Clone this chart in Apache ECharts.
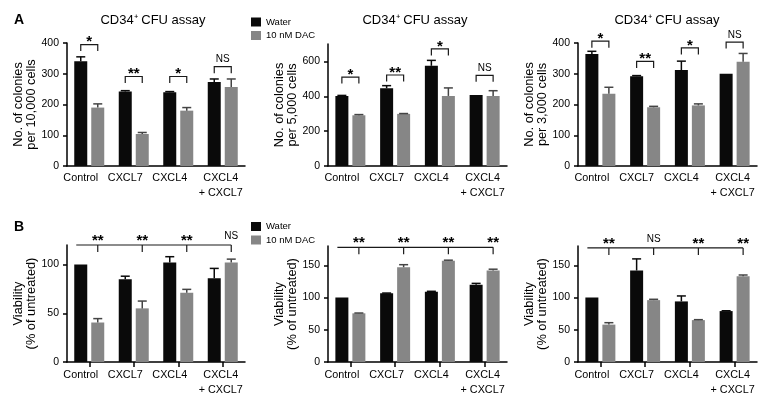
<!DOCTYPE html>
<html><head><meta charset="utf-8">
<script src="https://cdn.jsdelivr.net/npm/echarts@6/dist/echarts.min.js"></script>
<style>html,body{margin:0;padding:0;background:#fff}#c{width:775px;height:410px}</style>
</head><body><div id="c"></div>
<script>
// ---------- data ----------
const categories = ['Control', 'CXCL7', 'CXCL4', 'CXCL4 + CXCL7'];
const seriesNames = ['Water', '10 nM DAC'];
const panelTitle = 'CD34⁺ CFU assay';

// Panel A1: colonies per 10,000 cells
const a1Water = [341, 242, 240, 273];
const a1WaterErr = [14, 3, 2, 10];
const a1Dac = [190, 104, 180, 257];
const a1DacErr = [12, 5, 10, 26];
const a1Sig = ['*', '**', '*', 'NS'];
const a1SigLevel = [395, 291, 291, 323];
const a1Ticks = [0, 100, 200, 300, 400];

// Panel A2: colonies per 5,000 cells
const a2Water = [402, 446, 575, 408];
const a2WaterErr = [3, 15, 31, 0];
const a2Dac = [291, 299, 402, 402];
const a2DacErr = [4, 2, 46, 30];
const a2Sig = ['*', '**', '*', 'NS'];
const a2SigLevel = [510, 522, 672, 520];
const a2Ticks = [0, 200, 400, 600];

// Panel A3: colonies per 3,000 cells
const a3Water = [364, 292, 312, 300];
const a3WaterErr = [9, 2, 29, 0];
const a3Dac = [235, 191, 197, 339];
const a3DacErr = [21, 3, 5, 27];
const a3Sig = ['*', '**', '*', 'NS'];
const a3SigLevel = [406, 340, 384, 403];
const a3Ticks = [0, 100, 200, 300, 400];

// Panel B1: viability (% of untreated)
const b1Water = [100, 85, 102, 86];
const b1WaterErr = [0, 3, 6, 10];
const b1Dac = [40.5, 55, 71, 102];
const b1DacErr = [4, 7.5, 3.5, 3.5];
const b1Sig = ['**', '**', '**', 'NS'];
const b1SigLevel = 120;
const b1Ticks = [0, 50, 100];

// Panel B2
const b2Water = [100, 106.5, 109, 120];
const b2WaterErr = [0, 0.5, 0.7, 2];
const b2Dac = [75.5, 147, 157, 142];
const b2DacErr = [0.5, 4, 1, 2];
const b2Sig = ['**', '**', '**', '**'];
const b2SigLevel = 178;
const b2Ticks = [0, 50, 100, 150];

// Panel B3
const b3Water = [100, 142, 94, 79];
const b3WaterErr = [0, 18, 8.5, 0.5];
const b3Dac = [58, 96, 65, 133];
const b3DacErr = [3, 1.3, 0.7, 2];
const b3Sig = ['**', 'NS', '**', '**'];
const b3SigLevel = 177;
const b3Ticks = [0, 50, 100, 150];

const yNameA1 = 'No. of colonies\nper 10,000 cells';
const yNameA2 = 'No. of colonies\nper 5,000 cells';
const yNameA3 = 'No. of colonies\nper 3,000 cells';
const yNameB = 'Viability\n(% of untreated)';

// ---------- layout / style ----------
const FONT = '"Liberation Sans", Arial, Helvetica, sans-serif';
const BLACK = '#0a0a0a', GREY = '#868686', GREY_ERR = '#444444';
const BAR_W = 13, BAR_GAP = 4, BAR_OFF = (BAR_W + BAR_GAP) / 2, CAP = 4.5;

const panels = [
  {grid:{left:67, top:43, width:178, height:123}, kind:'A', w:a1Water, we:a1WaterErr, d:a1Dac, de:a1DacErr, sig:a1Sig, lvl:a1SigLevel, ticks:a1Ticks, max:400, interval:100, yName:yNameA1, nameGap:29, title:[153,20.5]},
  {grid:{left:328, top:44, width:179, height:122}, kind:'A', w:a2Water, we:a2WaterErr, d:a2Dac, de:a2DacErr, sig:a2Sig, lvl:a2SigLevel, ticks:a2Ticks, max:700, interval:100, yName:yNameA2, nameGap:29, title:[415,20.5]},
  {grid:{left:578, top:43, width:179, height:123}, kind:'A', w:a3Water, we:a3WaterErr, d:a3Dac, de:a3DacErr, sig:a3Sig, lvl:a3SigLevel, ticks:a3Ticks, max:400, interval:100, yName:yNameA3, nameGap:27, title:[667,20.5]},
  {grid:{left:67, top:245, width:178, height:117}, kind:'B', w:b1Water, we:b1WaterErr, d:b1Dac, de:b1DacErr, sig:b1Sig, lvl:b1SigLevel, ticks:b1Ticks, max:120, interval:10, yName:yNameB, nameGap:29},
  {grid:{left:328, top:246, width:179, height:116}, kind:'B', w:b2Water, we:b2WaterErr, d:b2Dac, de:b2DacErr, sig:b2Sig, lvl:b2SigLevel, ticks:b2Ticks, max:180, interval:10, yName:yNameB, nameGap:29},
  {grid:{left:578, top:246, width:179, height:116}, kind:'B', w:b3Water, we:b3WaterErr, d:b3Dac, de:b3DacErr, sig:b3Sig, lvl:b3SigLevel, ticks:b3Ticks, max:180, interval:10, yName:yNameB, nameGap:27}
];

function errSeries(gi, vals, errs, side, color) {
  return {
    type:'custom', xAxisIndex:gi, yAxisIndex:gi, clip:false, silent:true, z:5,
    data: vals.map((v, i) => [i, v, v + errs[i]]),
    encode:{x:0, y:[1, 2]},
    renderItem(params, api) {
      const i = api.value(0), v = api.value(1), t = api.value(2);
      if (!(t > v)) return null;
      const p0 = api.coord([i, v]), p1 = api.coord([i, t]);
      const x = p0[0] + side * BAR_OFF;
      return {type:'group', children:[
        {type:'line', shape:{x1:x, y1:p0[1], x2:x, y2:p1[1]}, style:{stroke:color, lineWidth:1.5}},
        {type:'line', shape:{x1:x - CAP, y1:p1[1], x2:x + CAP, y2:p1[1]}, style:{stroke:color, lineWidth:1.5}}
      ]};
    }
  };
}

function bracketSeries(gi, labels, levels) {
  return {
    type:'custom', xAxisIndex:gi, yAxisIndex:gi, clip:false, silent:true, z:6,
    data: levels.map((l, i) => [i, l]),
    encode:{x:0, y:1},
    renderItem(params, api) {
      const i = api.value(0), p = api.coord([i, api.value(1)]);
      const xl = p[0] - BAR_OFF, xr = p[0] + BAR_OFF, y = p[1];
      const lab = labels[params.dataIndex];
      const ns = lab === 'NS';
      return {type:'group', children:[
        {type:'polyline', shape:{points:[[xl, y + 6.5], [xl, y], [xr, y], [xr, y + 6.5]]}, style:{stroke:'#1a1a1a', lineWidth:1.2, fill:null}},
        {type:'text', x:p[0], y: ns ? y - 7 : y - 2.5, style:{text:lab, align:'center', verticalAlign:'middle', font: ns ? '10px ' + FONT : 'bold 15px ' + FONT, fill:'#000'}}
      ]};
    }
  };
}

function lineSigSeries(gi, labels, level) {
  return {
    type:'custom', xAxisIndex:gi, yAxisIndex:gi, clip:false, silent:true, z:6,
    data: labels.map((l, i) => [i, level]),
    encode:{x:0, y:1},
    renderItem(params, api) {
      const i = api.value(0), p = api.coord([i, api.value(1)]);
      const x = p[0] + BAR_OFF, y = p[1];
      const lab = labels[params.dataIndex];
      const ns = lab === 'NS';
      const ch = [
        {type:'line', shape:{x1:x, y1:y, x2:x, y2:y + 7}, style:{stroke:'#1a1a1a', lineWidth:1.2}},
        {type:'text', x:x, y: ns ? y - 8.5 : y - 4, style:{text:lab, align:'center', verticalAlign:'middle', font: ns ? '10px ' + FONT : 'bold 15px ' + FONT, fill:'#000'}}
      ];
      if (params.dataIndex === 0) {
        const pEnd = api.coord([labels.length - 1, api.value(1)]);
        ch.push({type:'line', shape:{x1:p[0] - BAR_OFF - 4.5, y1:y, x2:pEnd[0] + BAR_OFF, y2:y}, style:{stroke:'#1a1a1a', lineWidth:1.2}});
      }
      return {type:'group', children:ch};
    }
  };
}

const grids = [], xAxes = [], yAxes = [], series = [], graphics = [];
panels.forEach((P, gi) => {
  grids.push(P.grid);
  const isB = P.kind === 'B';
  xAxes.push({
    type:'category', gridIndex:gi, data:categories, boundaryGap:true,
    axisLine:{show:true, lineStyle:{color:'#000', width:1.5}},
    axisTick:{show:isB, alignWithLabel:true, length:5, lineStyle:{color:'#000', width:1.5}},
    axisLabel:{
      interval:0, margin: isB ? 6 : 4.5, color:'#000',
      formatter: v => v === 'CXCL4 + CXCL7' ? '{c|CXCL4}\n{c|+ CXCL7}' : '{a|' + v + '}',
      rich:{
        a:{fontSize:10.8, lineHeight:15, fontFamily:FONT, color:'#000', padding:[0, 17, 0, 0]},
        c:{fontSize:10.8, lineHeight:15, fontFamily:FONT, color:'#000', padding:[0, 4, 0, 0]}
      }
    },
    splitLine:{show:false}
  });
  yAxes.push({
    type:'value', gridIndex:gi, min:0, max:P.max, interval:P.interval,
    axisLine:{show:true, lineStyle:{color:'#000', width:1.5}},
    axisTick:{show:true, length:4, lineStyle:{color:'#000', width:1.5}, customValues:P.ticks},
    axisLabel:{fontSize:10.5, color:'#000', margin:8, fontFamily:FONT, customValues:P.ticks},
    splitLine:{show:false},
    name:P.yName, nameLocation:'middle', nameGap:P.nameGap,
    nameTextStyle:{fontSize:12.8, lineHeight:13, color:'#000', fontFamily:FONT}
  });
  series.push({type:'bar', name:seriesNames[0], xAxisIndex:gi, yAxisIndex:gi, data:P.w, barWidth:BAR_W, barGap:(BAR_GAP / BAR_W * 100) + '%', itemStyle:{color:BLACK}, silent:true});
  series.push({type:'bar', name:seriesNames[1], xAxisIndex:gi, yAxisIndex:gi, data:P.d, barWidth:BAR_W, barGap:(BAR_GAP / BAR_W * 100) + '%', itemStyle:{color:GREY}, silent:true});
  series.push(errSeries(gi, P.w, P.we, -1, BLACK));
  series.push(errSeries(gi, P.d, P.de, 1, GREY_ERR));
  series.push(isB ? lineSigSeries(gi, P.sig, P.lvl) : bracketSeries(gi, P.sig, P.lvl));
  if (P.title) {
    graphics.push({type:'text', x:P.title[0], y:P.title[1], style:{text:panelTitle, align:'center', verticalAlign:'middle', font:'13px ' + FONT, fill:'#000'}});
  }
});
graphics.push({type:'text', x:19, y:20, style:{text:'A', align:'center', verticalAlign:'middle', font:'bold 14px ' + FONT, fill:'#000'}});
graphics.push({type:'text', x:19, y:227.5, style:{text:'B', align:'center', verticalAlign:'middle', font:'bold 14px ' + FONT, fill:'#000'}});

const legendBase = {orient:'vertical', left:251, padding:0, itemWidth:10, itemHeight:9, itemGap:3.5, icon:'rect', selectedMode:false,
  textStyle:{fontSize:9.5, lineHeight:9, color:'#000', fontFamily:FONT}, data:seriesNames};

const chart = echarts.init(document.getElementById('c'), null, {renderer:'canvas'});
chart.setOption({
  animation:false,
  backgroundColor:'#fff',
  textStyle:{fontFamily:FONT},
  grid:grids, xAxis:xAxes, yAxis:yAxes, series:series,
  legend:[Object.assign({}, legendBase, {top:17}), Object.assign({}, legendBase, {top:221.5})],
  graphic:graphics
});
</script></body></html>
